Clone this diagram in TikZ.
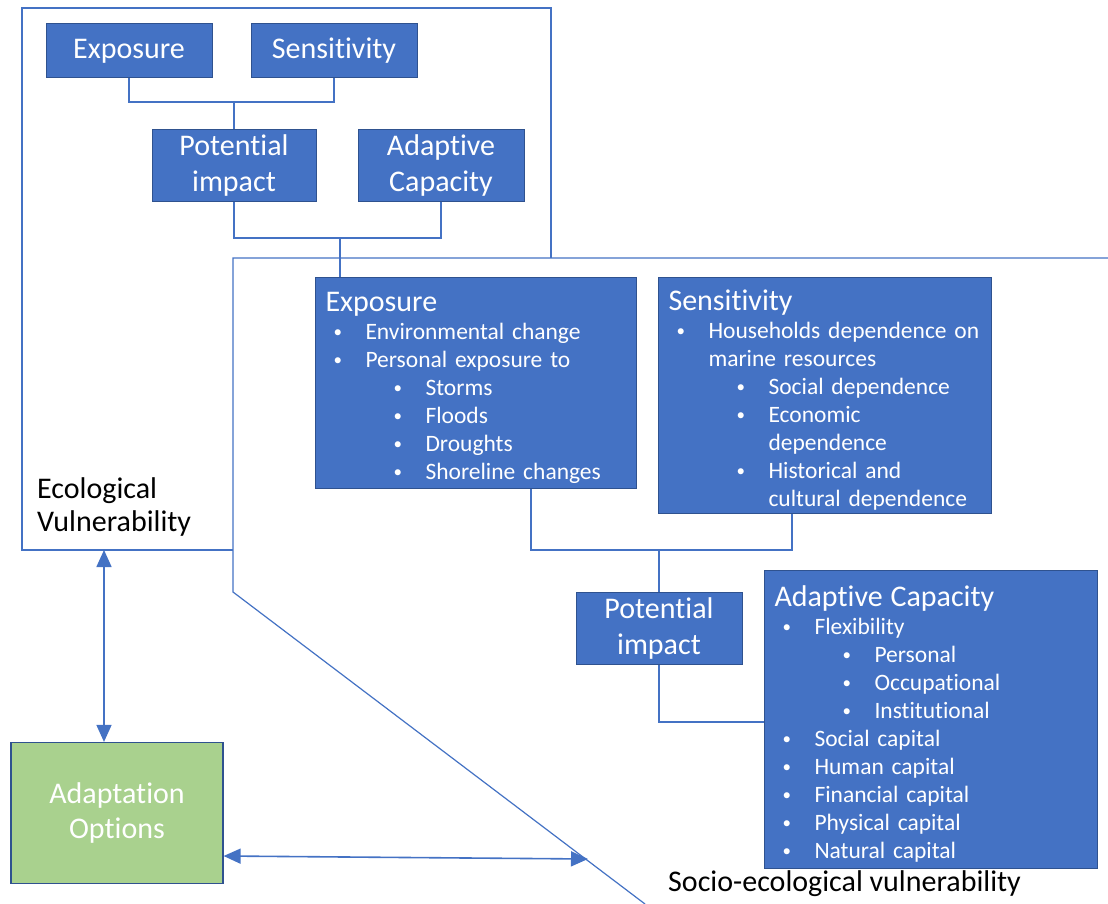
\documentclass[tikz,border=0pt]{standalone}
\usepackage{fontspec}
\setmainfont[RawFeature=-liga]{Carlito}
\usetikzlibrary{arrows.meta}

\definecolor{boxblue}{HTML}{4472C4}
\definecolor{boxedge}{HTML}{2F528F}
\definecolor{optgreen}{HTML}{A9D18E}

\newcommand{\hd}[1]{{\fontsize{30}{34}\selectfont\rule{0pt}{29pt}#1}}
\newcommand{\dotmark}{{\fontsize{17}{17}\selectfont\raisebox{1.5pt}{\textbullet}}}
\newcommand{\itm}[1]{\hspace*{8pt}\makebox[32pt][l]{\dotmark}#1}
\newcommand{\subitm}[1]{\hspace*{68pt}\makebox[32pt][l]{\dotmark}#1}
\newcommand{\itmcont}[1]{\hspace*{40pt}#1}
\newcommand{\subcont}[1]{\hspace*{100pt}#1}

\begin{document}
\begin{tikzpicture}[x=1pt, y=-1pt,
    frame/.style={draw=boxblue, line width=1.2pt},
    smallbox/.style={draw=boxedge, fill=boxblue, text=white, line width=1pt,
        inner sep=0pt, align=center, font=\fontsize{30}{36}\selectfont},
    bigbox/.style={draw=boxedge, fill=boxblue, text=white, line width=1pt,
        anchor=north west, inner xsep=10pt, inner ysep=0pt, align=left,
        font=\fontsize{23.5}{28}\selectfont},
    link/.style={draw=boxblue, line width=1.4pt},
    twoway/.style={draw=boxblue, line width=1.6pt,
        {Triangle[length=17pt,width=15pt]}-{Triangle[length=17pt,width=15pt]}}]
    \useasboundingbox (0,0) rectangle (1108,904);
    % ecological frame
    \draw[frame] (22,8) rectangle (551,550);
    \node[anchor=west, align=left, inner sep=0pt, font=\fontsize{30}{33}\selectfont] (ecolabel) at (37,507) {Ecological\\Vulnerability};
    \node[smallbox, minimum width=166pt, minimum height=54pt] (expS) at (129,51) {Exposure};
    \node[smallbox, minimum width=166pt, minimum height=54pt] (senS) at (334,51) {Sensitivity};
    \node[smallbox, minimum width=164pt, minimum height=72pt] (potS) at (234,166) {Potential\\impact};
    \node[smallbox, minimum width=166pt, minimum height=72pt] (adaS) at (441,166) {Adaptive\\Capacity};
    \coordinate (jA) at (234,102);
    \coordinate (jB) at (340,238);
    \draw[link] (expS.south) |- (jA) -| (senS.south);
    \draw[link] (jA) -- (potS.north);
    \draw[link] (potS.south) |- (jB) -| (adaS.south);
    % socio-ecological frame
    \fill[white] (233,258) -- (1108,258) -- (1108,904) -- (645,904) -- (233,592) -- cycle;
    \draw[frame] (1108,258) -- (233,258) -- (233,592) -- (645,904);
    \node[anchor=west, inner sep=0pt, font=\fontsize{30}{33}\selectfont] (sociolabel) at (668,884) {Socio-ecological vulnerability};
    \node[bigbox, text width=301pt, minimum height=211pt] (expB) at (315,277) {%
        \hd{Exposure}\\
        \itm{Environmental change}\\
        \itm{Personal exposure to}\\
        \subitm{Storms}\\
        \subitm{Floods}\\
        \subitm{Droughts}\\
        \subitm{Shoreline changes}};
    \node[bigbox, text width=313pt, minimum height=236pt] (senB) at (658,277) {%
        \hd{Sensitivity}\\
        \itm{Households dependence on}\\
        \itmcont{marine resources}\\
        \subitm{Social dependence}\\
        \subitm{Economic}\\
        \subcont{dependence}\\
        \subitm{Historical and}\\
        \subcont{cultural dependence}};
    \node[smallbox, minimum width=166pt, minimum height=72pt] (potB) at (659,628) {Potential\\impact};
    \node[bigbox, text width=313pt, minimum height=298pt] (adaB) at (764,570) {%
        \hd{Adaptive Capacity}\\
        \itm{Flexibility}\\
        \subitm{Personal}\\
        \subitm{Occupational}\\
        \subitm{Institutional}\\
        \itm{Social capital}\\
        \itm{Human capital}\\
        \itm{Financial capital}\\
        \itm{Physical capital}\\
        \itm{Natural capital}};
    \coordinate (jC) at (659,550);
    \coordinate (jD) at (659,722);
    \draw[link] (jB) -- (jB |- expB.north);
    \draw[link] ([xshift=55pt]expB.south) |- (jC) -| ([xshift=-33pt]senB.south);
    \draw[link] (jC) -- (potB.north);
    \draw[link] (potB.south) |- (jD) -- (jD -| adaB.west);
    % adaptation options
    \node[draw=boxedge, fill=optgreen, text=white, line width=1.2pt, align=center,
        minimum width=212pt, minimum height=141pt, inner sep=0pt,
        font=\fontsize{30}{35}\selectfont] (adapt) at (117,813) {Adaptation\\Options};
    \coordinate (vtop) at (104,550);
    \coordinate (hend) at (588,859);
    \draw[twoway] (vtop) -- (vtop |- adapt.north);
    \draw[twoway] ([yshift=-43pt]adapt.east) -- (hend);
\end{tikzpicture}
\end{document}
